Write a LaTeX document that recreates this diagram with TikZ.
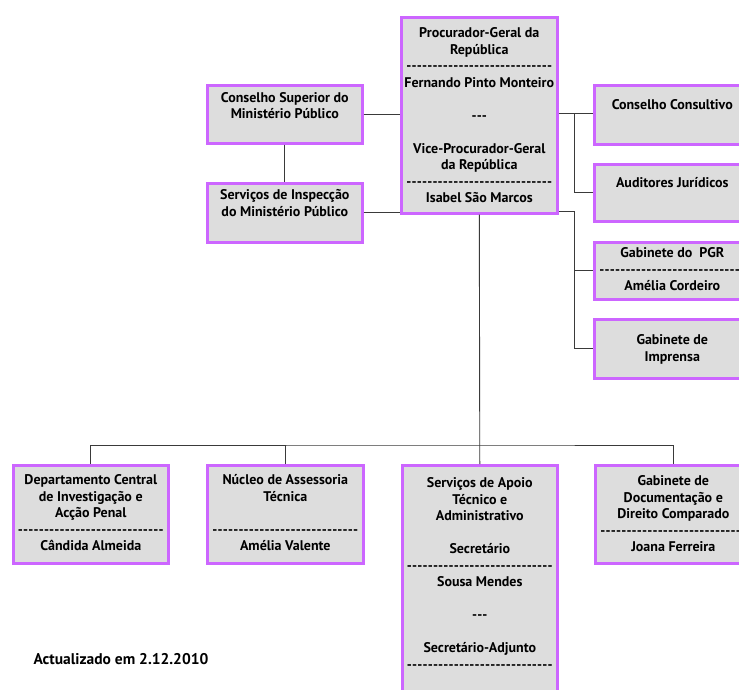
\documentclass[tikz,border=0pt]{standalone}
\usepackage{fontspec}
\setmainfont{PT Sans}
\definecolor{bpurple}{HTML}{CC66FF}
\definecolor{boxgray}{HTML}{DDDDDD}
\definecolor{linegray}{HTML}{3A3A3A}
\newcommand\orgfont{\bfseries\fontsize{14}{16.5}\selectfont}
\newcommand\dashrow{\leavevmode\hbox to 146pt{\xleaders\hbox{-}\hfill}}
\newcommand\tripdash{\mbox{-}\mbox{-}\mbox{-}}
% width, height, top pad, text
\newcommand\btext[4]{\parbox[c][#2][t]{#1}{\centering\vspace*{#3}\strut #4\par}}
\tikzset{
  orgbox/.style={draw=bpurple, line width=2.6pt, fill=boxgray, inner sep=0pt,
    anchor=north west, font=\orgfont, text=black},
  conn/.style={draw=linegray, line width=0.9pt},
  note/.style={font=\bfseries\fontsize{15.5}{18}\selectfont, text=black, inner sep=0pt}
}
\begin{document}
\begin{tikzpicture}[x=1pt,y=-1pt]
\useasboundingbox (0,0) rectangle (739,690);
\clip (0,0) rectangle (739,690);
\fill[white] (0,0) rectangle (739,690);

% boxes
\node[orgbox] (pgr) at (400,16) {\btext{156pt}{196pt}{9pt}{Procurador-Geral da\\República\\\dashrow\\Fernando Pinto Monteiro\\\mbox{}\\\tripdash\\\mbox{}\\Vice-Procurador-Geral\\da República\\\dashrow\\Isabel São Marcos}};
\node[orgbox] (csmp) at (206,84) {\btext{155pt}{58pt}{5.5pt}{Conselho Superior do\\Ministério Público}};
\node[orgbox] (sim) at (206,182) {\btext{155pt}{59pt}{5pt}{Serviços de Inspecção\\do Ministério Público}};
\node[orgbox] (cc) at (593,84) {\btext{156pt}{59pt}{13pt}{Conselho Consultivo}};
\node[orgbox] (aj) at (593,163) {\btext{156pt}{57pt}{12pt}{Auditores Jurídicos}};
\node[orgbox] (gpgr) at (593,241) {\btext{156pt}{57pt}{4pt}{Gabinete do~~PGR\\\dashrow\\Amélia Cordeiro}};
\node[orgbox] (gi) at (593,318) {\btext{156pt}{59pt}{14pt}{Gabinete de\\Imprensa}};
\node[orgbox] (dcia) at (12,464) {\btext{155pt}{98pt}{8pt}{Departamento Central\\de Investigação e\\Acção Penal\\\dashrow\\Cândida Almeida}};
\node[orgbox] (nat) at (206,464) {\btext{156pt}{98pt}{8pt}{Núcleo de Assessoria\\Técnica\\\mbox{}\\\dashrow\\Amélia Valente}};
\node[orgbox] (sata) at (401,464) {\btext{155pt}{240pt}{11pt}{Serviços de Apoio\\Técnico e\\Administrativo\\\mbox{}\\Secretário\\\dashrow\\Sousa Mendes\\\mbox{}\\\tripdash\\\mbox{}\\Secretário-Adjunto\\\dashrow}};
\node[orgbox] (gddc) at (594,464) {\btext{156pt}{98pt}{9pt}{Gabinete de\\Documentação e\\Direito Comparado\\\dashrow\\Joana Ferreira}};

\node[note] (upd) at (121,659) {Actualizado em 2.12.2010};

% junction coordinates
\coordinate (jr1) at (574,113.5);
\coordinate (jr2) at (574,211.5);
\coordinate (bus) at (478,445);

% left side
\draw[conn] (csmp.east) -- (csmp.east -| pgr.west);
\draw[conn] (csmp.south) -- (sim.north);
\draw[conn] (sim.east) -- (sim.east -| pgr.west);
% right side
\draw[conn] (pgr.east |- jr1) -- (cc.west |- jr1);
\draw[conn] (jr1) |- (aj.west);
\draw[conn] (pgr.east |- jr2) -- (jr2) |- (gi.west);
\draw[conn] (jr2 |- gpgr.west) -- (gpgr.west);
% bottom
\draw[conn] (pgr.south) -- (sata.north);
\draw[conn] (dcia.north) |- (bus) -| (gddc.north);
\draw[conn] (nat.north) -- (nat.north |- bus);
\end{tikzpicture}
\end{document}
